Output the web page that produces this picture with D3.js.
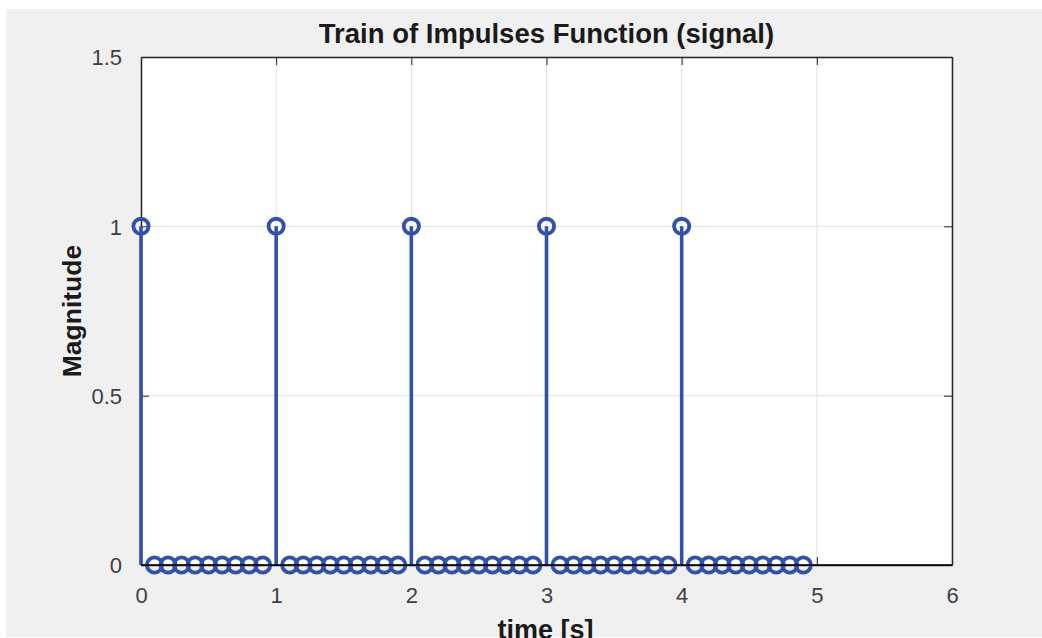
<!DOCTYPE html>
<html>
<head>
<meta charset="utf-8">
<script src="https://cdn.jsdelivr.net/npm/d3@7"></script>
<style>
  html, body { margin: 0; padding: 0; background: #fff; }
  svg { display: block; }
  text { font-family: "Liberation Sans", Arial, Helvetica, sans-serif; }
</style>
</head>
<body>
<svg id="svg" width="1042" height="638"></svg>
<script>
// sampled signal: t = 0 .. 4.9 s in 0.1 s steps
const times = [
  0.0, 0.1, 0.2, 0.3, 0.4, 0.5, 0.6, 0.7, 0.8, 0.9,
  1.0, 1.1, 1.2, 1.3, 1.4, 1.5, 1.6, 1.7, 1.8, 1.9,
  2.0, 2.1, 2.2, 2.3, 2.4, 2.5, 2.6, 2.7, 2.8, 2.9,
  3.0, 3.1, 3.2, 3.3, 3.4, 3.5, 3.6, 3.7, 3.8, 3.9,
  4.0, 4.1, 4.2, 4.3, 4.4, 4.5, 4.6, 4.7, 4.8, 4.9
];
const magnitudes = [
  1, 0, 0, 0, 0, 0, 0, 0, 0, 0,
  1, 0, 0, 0, 0, 0, 0, 0, 0, 0,
  1, 0, 0, 0, 0, 0, 0, 0, 0, 0,
  1, 0, 0, 0, 0, 0, 0, 0, 0, 0,
  1, 0, 0, 0, 0, 0, 0, 0, 0, 0
];
const xTicks = [0, 1, 2, 3, 4, 5, 6];
const yTicks = [0, 0.5, 1, 1.5];
const xDomain = [0, 6];
const yDomain = [0, 1.5];

const title = "Train of Impulses Function (signal)";
const xLabel = "time [s]";
const yLabel = "Magnitude";

const data = times.map((t, i) => ({ t: t, v: magnitudes[i] }));

const svg = d3.select("#svg");
const stemColor = "#3451a8";
const axisColor = "#262626";

const x = d3.scaleLinear().domain(xDomain).range([141, 952]);
const y = d3.scaleLinear().domain(yDomain).range([565, 57]);

// figure background
svg.append("rect")
  .attr("x", 6).attr("y", 9)
  .attr("width", 1036).attr("height", 628)
  .attr("fill", "#f0f0f0");

// plot area
svg.append("rect")
  .attr("x", x(xDomain[0])).attr("y", y(yDomain[1]))
  .attr("width", x(xDomain[1]) - x(xDomain[0]))
  .attr("height", y(yDomain[0]) - y(yDomain[1]))
  .attr("fill", "#fff");

// grid
const grid = svg.append("g").attr("stroke", "#e1e1e1").attr("stroke-width", 1);
grid.selectAll(".gx").data(xTicks).join("line")
  .attr("x1", d => x(d)).attr("x2", d => x(d))
  .attr("y1", y(yDomain[0])).attr("y2", y(yDomain[1]));
grid.selectAll(".gy").data(yTicks).join("line")
  .attr("y1", d => y(d)).attr("y2", d => y(d))
  .attr("x1", x(xDomain[0])).attr("x2", x(xDomain[1]));

// axes (ticks pointing inward, MATLAB style)
const xAxis = svg.append("g")
  .attr("transform", `translate(0,${y(yDomain[0])})`)
  .call(d3.axisBottom(x).tickValues(xTicks).tickFormat(d3.format("d"))
    .tickSizeInner(-8).tickSizeOuter(0).tickPadding(22));
const yAxis = svg.append("g")
  .attr("transform", `translate(${x(xDomain[0])},0)`)
  .call(d3.axisLeft(y).tickValues(yTicks).tickFormat(d => String(d))
    .tickSizeInner(-8).tickSizeOuter(0).tickPadding(19));
const xTop = svg.append("g")
  .attr("transform", `translate(0,${y(yDomain[1])})`)
  .call(d3.axisTop(x).tickValues(xTicks).tickFormat("").tickSizeInner(-8).tickSizeOuter(0));
const yRight = svg.append("g")
  .attr("transform", `translate(${x(xDomain[1])},0)`)
  .call(d3.axisRight(y).tickValues(yTicks).tickFormat("").tickSizeInner(-8).tickSizeOuter(0));

[xAxis, yAxis, xTop, yRight].forEach(g => {
  g.select(".domain").attr("stroke", axisColor).attr("stroke-width", 1.5);
  g.selectAll(".tick line").attr("stroke", axisColor).attr("stroke-width", 1);
  g.selectAll(".tick text")
    .attr("fill", "#404040")
    .style("font-size", "22px")
    .style("font-family", '"Liberation Sans", Arial, sans-serif');
});
yAxis.selectAll(".tick text").attr("dy", "0.36em");

// stems
svg.append("g").selectAll("line").data(data).join("line")
  .attr("x1", d => x(d.t)).attr("x2", d => x(d.t))
  .attr("y1", y(0)).attr("y2", d => y(d.v))
  .attr("stroke", stemColor).attr("stroke-width", 3.6);

// markers
svg.append("g").selectAll("circle").data(data).join("circle")
  .attr("cx", d => x(d.t)).attr("cy", d => y(d.v))
  .attr("r", 7.6)
  .attr("fill", "none")
  .attr("stroke", stemColor)
  .attr("stroke-width", 3.8);

// baseline
svg.append("line")
  .attr("x1", x(xDomain[0])).attr("x2", x(xDomain[1]))
  .attr("y1", y(0)).attr("y2", y(0))
  .attr("stroke", "#000").attr("stroke-width", 1.5);

// labels
svg.append("text")
  .attr("x", (x(xDomain[0]) + x(xDomain[1])) / 2 - 0)
  .attr("y", 43)
  .attr("text-anchor", "middle")
  .attr("fill", "#1a1a1a")
  .style("font-size", "27.5px").style("font-weight", "bold")
  .text(title);

svg.append("text")
  .attr("x", (x(xDomain[0]) + x(xDomain[1])) / 2 - 1)
  .attr("y", 639)
  .attr("text-anchor", "middle")
  .attr("fill", "#1a1a1a")
  .style("font-size", "27px").style("font-weight", "bold")
  .text(xLabel);

svg.append("text")
  .attr("transform", `translate(81,${(y(yDomain[0]) + y(yDomain[1])) / 2}) rotate(-90)`)
  .attr("text-anchor", "middle")
  .attr("fill", "#1a1a1a")
  .style("font-size", "26.5px").style("font-weight", "bold")
  .text(yLabel);
</script>
</body>
</html>
